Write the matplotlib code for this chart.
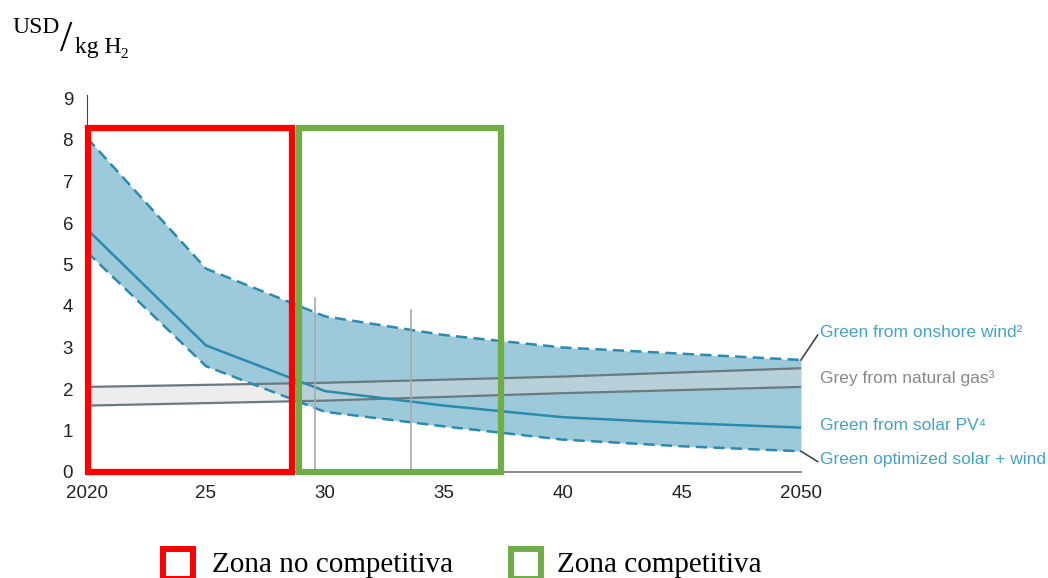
import matplotlib.pyplot as plt
from matplotlib.patches import Rectangle

# data (USD / kg H2)
years = [2020, 2025, 2030, 2035, 2040, 2045, 2050]
onshore_wind = [8.05, 4.9, 3.75, 3.3, 3.0, 2.85, 2.7]
solar_pv = [5.85, 3.05, 1.95, 1.6, 1.32, 1.18, 1.07]
optimized = [5.3, 2.55, 1.45, 1.1, 0.78, 0.62, 0.5]

gas_years = [2020, 2030, 2040, 2050]
gas_high = [2.05, 2.15, 2.3, 2.5]
gas_low = [1.6, 1.72, 1.9, 2.05]

marker_years = [2029.6, 2033.6]
marker_tops = [4.2, 3.9]

xticks = [2020, 2025, 2030, 2035, 2040, 2045, 2050]
xticklabels = ['2020', '25', '30', '35', '40', '45', '2050']

labels = ['Green from onshore wind²', 'Grey from natural gas³', 'Green from solar PV⁴', 'Green optimized solar + wind']
label_y = [3.35, 2.27, 1.11, 0.31]

zones = [(2020.06, 2028.6, '#ff0000', 'Zona no competitiva'),
         (2028.9, 2037.4, '#70ad47', 'Zona competitiva')]

sans = ['Liberation Sans', 'DejaVu Sans']
serif = ['Liberation Serif', 'DejaVu Serif']
blue_line = '#2b8aad'
blue_fill = '#9dcadb'
blue_text = '#45a2c8'

W, H = 1048, 578
fig = plt.figure(figsize=(W / 100, H / 100), dpi=100)
ax = fig.add_axes([87 / W, (H - 472) / H, 714 / W, 373.5 / H])


def px(x, y):
    return x / W, 1 - y / H


ax.fill_between(years, optimized, onshore_wind, color=blue_fill, lw=0, zorder=1)
ax.fill_between(gas_years, gas_low, gas_high, color='#d8d8d8', alpha=0.45, lw=0, zorder=2)
ax.plot(gas_years, gas_high, color='#6b7a80', lw=1.6, zorder=3)
ax.plot(gas_years, gas_low, color='#6b7a80', lw=1.6, zorder=3)
ax.plot(years, onshore_wind, color=blue_line, lw=1.8, dashes=(4.5, 2.5), zorder=4)
ax.plot(years, optimized, color=blue_line, lw=1.8, dashes=(4.5, 2.5), zorder=4)
ax.plot(years, solar_pv, color=blue_line, lw=1.8, zorder=4)

for mx, mt in zip(marker_years, marker_tops):
    ax.plot([mx, mx], [0, mt], color='#aaaaaa', lw=1.2, zorder=5)

ax.set_xlim(2020, 2050)
ax.set_ylim(0, 9)
ax.set_xticks(xticks)
ax.set_xticklabels(xticklabels)
ax.set_yticks(range(10))
ax.tick_params(length=0, labelsize=13.5, labelcolor='#222222')
ax.tick_params(axis='y', pad=10)
ax.tick_params(axis='x', pad=9)
for lab in ax.get_xticklabels() + ax.get_yticklabels():
    lab.set_family(sans)
for s in ['top', 'right']:
    ax.spines[s].set_visible(False)
ax.spines['left'].set_color('#444444')
ax.spines['left'].set_bounds(0, 9.08)
ax.spines['bottom'].set_color('#777777')
ax.spines['bottom'].set_linewidth(1.2)

# labels at the right end
for i, (txt, ly) in enumerate(zip(labels, label_y)):
    col = '#888888' if i == 1 else blue_text
    ax.text(2050.8, ly, txt, color=col, fontsize=12.5, family=sans,
            va='center', ha='left', clip_on=False)
ax.plot([2050, 2050.7], [onshore_wind[-1], 3.3], color='#444444', lw=1.2, clip_on=False)
ax.plot([2050, 2050.7], [optimized[-1], 0.25], color='#444444', lw=1.2, clip_on=False)

# zones
for x0, x1, col, name in zones:
    ax.add_patch(Rectangle((x0, 0.0), x1 - x0, 8.3, fill=False, ec=col, lw=4.5,
                           zorder=6, clip_on=False))

# legend at the bottom
leg_x = [(163, 212), (511, 557)]
for (bx, tx), (x0, x1, col, name) in zip(leg_x, zones):
    fig.patches.append(Rectangle(px(bx, 579), 30 / W, 30 / H, fill=False,
                                 ec=col, lw=4.3, transform=fig.transFigure))
    fig.text(*px(tx, 572), name, fontsize=21, family=serif, va='baseline', ha='left')

# unit label
fig.text(*px(12, 33), 'USD', fontsize=17, family=serif, va='baseline')
fig.text(*px(60, 51), '/', fontsize=32, family=serif, va='baseline')
fig.text(*px(75, 53), 'kg H', fontsize=17, family=serif, va='baseline')
fig.text(*px(120, 58), '2', fontsize=11, family=serif, va='baseline')

fig.savefig('out.png', dpi=100)
